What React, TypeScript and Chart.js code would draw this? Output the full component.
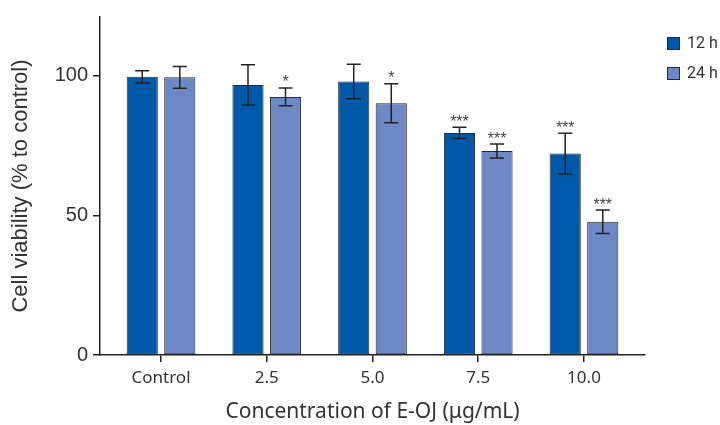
import React, { useEffect, useRef } from 'react';
import { Chart, registerables } from 'chart.js';

Chart.register(...registerables);

const categories = ['Control', '2.5', '5.0', '7.5', '10.0'];
const series12h = [99.6, 96.7, 97.9, 79.5, 72.1];
const error12h = [2.2, 7.2, 6.2, 2.0, 7.3];
const stars12h = ['', '', '', '***', '***'];
const series24h = [99.4, 92.4, 90.1, 73.0, 47.7];
const error24h = [3.9, 3.2, 7.0, 2.5, 4.2];
const stars24h = ['', '*', '*', '***', '***'];
const yTicks = [0, 50, 100];
const seriesNames = ['12 h', '24 h'];
const seriesColors = ['#0058a8', '#6c89c5'];

const errorsBySeries = [error12h, error24h];
const starsBySeries = [stars12h, stars24h];

const errorBarPlugin = {
  id: 'errorBars',
  afterDatasetsDraw(chart: any) {
    const ctx = chart.ctx;
    const yScale = chart.scales.y;
    chart.data.datasets.forEach((ds: any, di: number) => {
      const meta = chart.getDatasetMeta(di);
      const errs = errorsBySeries[di];
      const stars = starsBySeries[di];
      meta.data.forEach((bar: any, i: number) => {
        const v = ds.data[i].y;
        const top = yScale.getPixelForValue(v + errs[i]);
        const bot = yScale.getPixelForValue(v - errs[i]);
        const x = bar.x;
        ctx.save();
        ctx.strokeStyle = '#222';
        ctx.lineWidth = 1.5;
        ctx.beginPath();
        ctx.moveTo(x, top);
        ctx.lineTo(x, bot);
        ctx.moveTo(x - 7, top);
        ctx.lineTo(x + 7, top);
        ctx.moveTo(x - 7, bot);
        ctx.lineTo(x + 7, bot);
        ctx.stroke();
        if (stars[i]) {
          ctx.fillStyle = '#444';
          ctx.font = '16px "Liberation Sans", Arial, sans-serif';
          ctx.textAlign = 'center';
          ctx.textBaseline = 'alphabetic';
          ctx.fillText(stars[i], x, top - 0.5);
        }
        ctx.restore();
      });
    });
  },
};

export default function App() {
  const ref = useRef<HTMLCanvasElement>(null);

  useEffect(() => {
    document.body.style.margin = '0';
    const canvas = ref.current;
    if (!canvas) return;
    const chart = new Chart(canvas, {
      type: 'bar',
      data: {
        datasets: [series12h, series24h].map((s, di) => ({
          label: seriesNames[di],
          data: s.map((v, i) => ({ x: i, y: v })),
          backgroundColor: seriesColors[di],
          borderColor: '#2a2a2a',
          borderWidth: 1,
          borderSkipped: false,
          categoryPercentage: 0.71,
          barPercentage: 0.83,
        })),
      },
      options: {
        animation: false,
        responsive: false,
        maintainAspectRatio: false,
        layout: { padding: { top: 15, right: 75, left: 0, bottom: 0 } },
        plugins: {
          legend: { display: false },
          tooltip: { enabled: false },
        },
        scales: {
          x: {
            type: 'linear',
            offset: false,
            min: -0.577,
            max: 4.577,
            afterBuildTicks: (scale: any) => {
              scale.ticks = categories.map((_, i) => ({ value: i }));
            },
            afterFit: (scale: any) => {
              scale.height = 70;
            },
            ticks: {
              autoSkip: false,
              maxRotation: 0,
              padding: 6,
              color: '#333',
              font: { family: '"Noto Sans", sans-serif', size: 17 },
              callback: (v: any) => categories[v] ?? '',
            },
            grid: {
              display: true,
              offset: false,
              drawOnChartArea: false,
              drawTicks: true,
              tickLength: 7,
              color: '#222',
              lineWidth: 1.5,
            },
            border: { display: true, color: '#222', width: 1.5 },
            title: {
              display: true,
              text: 'Concentration of E-OJ (μg/mL)',
              color: '#333',
              font: { family: '"Noto Sans", sans-serif', size: 21 },
              padding: { top: 0, bottom: 0 },
            },
          },
          y: {
            type: 'linear',
            min: 0,
            max: 121,
            afterBuildTicks: (scale: any) => {
              scale.ticks = yTicks.map((v) => ({ value: v }));
            },
            afterFit: (scale: any) => {
              scale.width = 100;
            },
            ticks: {
              padding: 5,
              color: '#333',
              font: { family: '"Liberation Sans", Arial, sans-serif', size: 20 },
            },
            grid: {
              display: true,
              drawOnChartArea: false,
              drawTicks: true,
              tickLength: 7,
              color: '#222',
              lineWidth: 1.5,
            },
            border: { display: true, color: '#222', width: 1.5 },
            title: {
              display: true,
              text: 'Cell viability (% to control)',
              color: '#333',
              font: { family: '"Liberation Sans", Arial, sans-serif', size: 22 },
              padding: { top: 8, bottom: 0 },
            },
          },
        },
      },
      plugins: [errorBarPlugin],
    } as any);
    return () => chart.destroy();
  }, []);

  const legendItem = (i: number, top: number) => (
    <div
      key={i}
      style={{ position: 'absolute', left: 667, top, display: 'flex', alignItems: 'center', height: 14 }}
    >
      <div
        style={{
          width: 11,
          height: 11,
          background: seriesColors[i],
          border: '1px solid #2a2a2a',
          boxSizing: 'content-box',
        }}
      />
      <span
        style={{
          marginLeft: 7,
          fontFamily: 'Roboto, sans-serif',
          fontSize: 16,
          color: '#333',
          lineHeight: '14px',
        }}
      >
        {seriesNames[i]}
      </span>
    </div>
  );

  return (
    <div style={{ position: 'relative', width: 720, height: 425, background: '#fff' }}>
      <canvas ref={ref} width={720} height={425} style={{ display: 'block' }} />
      {legendItem(0, 36)}
      {legendItem(1, 66)}
    </div>
  );
}
